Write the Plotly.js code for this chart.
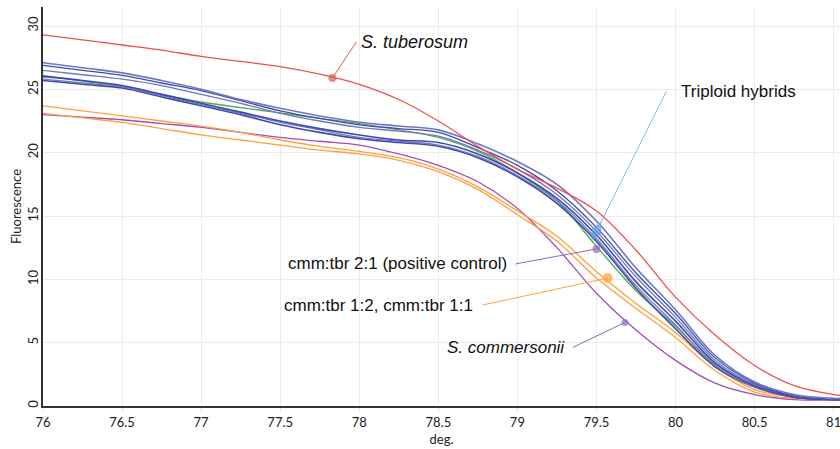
<!DOCTYPE html>
<html>
<head>
<meta charset="utf-8">
<script src="https://cdn.plot.ly/plotly-3.0.1.min.js"></script>
<style>html,body{margin:0;padding:0;background:#fff;}#chart{width:840px;height:449px;}</style>
</head>
<body>
<div id="chart"></div>
<script>
// Temperature samples (deg.)
const temps = [76, 76.25, 76.5, 76.75, 77, 77.25, 77.5, 77.75, 78, 78.25, 78.5, 78.75, 79, 79.25, 79.5, 79.75, 80, 80.25, 80.5, 80.75, 81, 81.04];

// S. tuberosum
const tuberosum = [29.3, 28.9, 28.5, 28.1, 27.6, 27.2, 26.8, 26.2, 25.4, 24.2, 22.5, 20.5, 18.7, 17.2, 15.4, 12.3, 8.6, 5.6, 3.2, 1.6, 0.9, 0.85];
// Triploid hybrids
const hybrid1 = [27.1, 26.7, 26.3, 25.7, 25.0, 24.2, 23.5, 22.9, 22.4, 22.1, 21.8, 20.7, 19.3, 17.5, 14.6, 10.9, 7.6, 4.0, 1.9, 0.9, 0.6, 0.6];
const hybrid2 = [26.9, 26.5, 26.1, 25.5, 24.9, 24.1, 23.3, 22.7, 22.2, 21.9, 21.6, 20.4, 19.0, 17.0, 14.1, 10.5, 7.3, 3.8, 1.8, 0.8, 0.55, 0.55];
const hybrid3 = [26.5, 26.15, 25.8, 25.3, 24.6, 23.9, 23.1, 22.5, 22.0, 21.7, 21.3, 20.2, 18.7, 16.7, 13.8, 10.2, 7.0, 3.6, 1.7, 0.8, 0.55, 0.55];
const hybrid4 = [26.0, 25.7, 25.3, 24.6, 23.9, 23.2, 22.5, 21.9, 21.4, 21.0, 20.8, 19.9, 18.4, 16.4, 13.5, 9.8, 6.7, 3.4, 1.6, 0.7, 0.5, 0.5];
const hybrid5 = [25.8, 25.5, 25.2, 24.5, 23.8, 23.1, 22.4, 21.8, 21.2, 20.9, 20.6, 19.7, 18.2, 16.2, 13.2, 9.5, 6.4, 3.2, 1.5, 0.7, 0.5, 0.5];
const hybrid6 = [25.7, 25.4, 25.1, 24.4, 23.7, 23.0, 22.2, 21.6, 21.1, 20.8, 20.5, 19.6, 18.1, 16.0, 13.0, 9.3, 6.1, 3.1, 1.5, 0.7, 0.5, 0.5];
// cmm:tbr 2:1 (positive control)
const positiveControl = [26.1, 25.65, 25.2, 24.6, 24.0, 23.55, 23.15, 22.7, 22.3, 21.8, 21.2, 20.1, 18.4, 16.2, 12.6, 9.1, 6.3, 3.3, 1.6, 0.7, 0.5, 0.5];
// cmm:tbr 1:2, cmm:tbr 1:1
const mix12 = [23.7, 23.3, 22.9, 22.5, 22.1, 21.6, 21.0, 20.5, 20.1, 19.6, 18.7, 17.3, 15.4, 13.4, 10.6, 8.1, 5.8, 3.1, 1.3, 0.7, 0.5, 0.5];
const mix11 = [23.1, 22.75, 22.4, 21.9, 21.4, 21.0, 20.6, 20.2, 19.9, 19.4, 18.5, 17.1, 15.1, 13.0, 10.1, 7.7, 5.4, 2.8, 1.1, 0.6, 0.45, 0.45];
// S. commersonii
const commersonii = [23.0, 22.8, 22.6, 22.3, 22.0, 21.6, 21.2, 20.9, 20.6, 19.9, 19.0, 17.7, 15.6, 12.5, 8.9, 6.0, 3.6, 1.8, 0.9, 0.5, 0.45, 0.45];

// Callout labels and the points they mark
const calloutLabels = ["<i>S. tuberosum</i>", "Triploid hybrids", "cmm:tbr 2:1 (positive control)", "cmm:tbr 1:2, cmm:tbr 1:1", "<i>S. commersonii</i>"];
const calloutX = [77.83, 79.5, 79.5, 79.57, 79.68];
const calloutY = [25.9, 13.8, 12.4, 10.1, 6.6];

const RED = '#f0504c', BLUE_D = '#3f4aa8', BLUE_L = '#6f76c2', GREEN = '#4fae4f', ORANGE = '#ffa040', PURPLE = '#a24fb6';

function line(y, color, w) {
  return {x: temps, y: y, type: 'scatter', mode: 'lines',
    line: {color: color, width: w || 1.3, shape: 'spline', smoothing: 1},
    hoverinfo: 'skip', showlegend: false};
}

const data = [
  line(commersonii, PURPLE),
  line(mix11, ORANGE),
  line(mix12, ORANGE),
  line(positiveControl, GREEN),
  line(hybrid6, BLUE_D, 1.6),
  line(hybrid5, BLUE_L),
  line(hybrid4, BLUE_D, 1.6),
  line(hybrid3, BLUE_L),
  line(hybrid2, BLUE_D),
  line(hybrid1, BLUE_L, 1.6),
  line(tuberosum, RED),
];

const markerColors = ['#d0605a', '#5b9bd5', '#8e6bb8', '#ffa040', '#8e6bb8'];
const markerSizes = [8, 15, 8, 10, 7];
const markerSymbols = ['circle', 'diamond-tall', 'circle', 'circle', 'circle'];
const markerAngles = [0, 27, 0, 0, 0];
data.push({
  x: calloutX, y: calloutY, type: 'scatter', mode: 'markers',
  marker: {color: markerColors, size: markerSizes, symbol: markerSymbols, angle: markerAngles, line: {width: 0}},
  cliponaxis: false, hoverinfo: 'skip', showlegend: false
});

const lineColors = ['#d0605a', '#7fb0e0', '#8e6bb8', '#ffa040', '#8e6bb8'];
const ax = [24, 70, -81, -125, -52];
const ay = [-36, -140, 15, 27, 25];
const anchors = ['left', 'left', 'right', 'right', 'right'];
const pads = [4, 14, 7, 9, 7];
const fontSizes = [18, 17, 17, 17, 17];
const annotations = calloutLabels.map((t, i) => ({
  x: calloutX[i], y: calloutY[i], xref: 'x', yref: 'y',
  text: t, showarrow: true, ax: ax[i], ay: ay[i],
  xanchor: anchors[i], yanchor: 'middle',
  arrowhead: 0, arrowwidth: 1,
  arrowcolor: lineColors[i], standoff: 0, borderpad: pads[i],
  font: {family: 'Liberation Sans, Arial, sans-serif', size: fontSizes[i], color: '#111'}
}));

const layout = {
  width: 840, height: 449,
  margin: {l: 43, r: 0, t: 7, b: 43},
  paper_bgcolor: '#fff', plot_bgcolor: '#fff',
  font: {family: 'Lato, Open Sans, sans-serif', size: 13, color: '#222'},
  xaxis: {
    range: [76, 81.04], dtick: 0.5, tick0: 76,
    showgrid: true, gridcolor: '#ebebeb', gridwidth: 1,
    showline: true, linecolor: '#333', linewidth: 2,
    ticks: 'outside', ticklen: 3, tickcolor: '#ddd',
    ticklabeloverflow: 'allow',
    zeroline: false,
    title: {text: 'deg.', standoff: 6, font: {size: 13}}
  },
  yaxis: {
    range: [0, 31.5], dtick: 5, tick0: 0,
    showgrid: true, gridcolor: '#ebebeb', gridwidth: 1,
    showline: true, linecolor: '#333', linewidth: 2,
    ticks: '', tickangle: -90, zeroline: false,
    ticklabelstandoff: -2,
    title: {text: 'Fluorescence', standoff: 0, font: {size: 13}}
  },
  annotations: annotations
};

Plotly.newPlot('chart', data, layout, {staticPlot: true});
</script>
</body>
</html>
